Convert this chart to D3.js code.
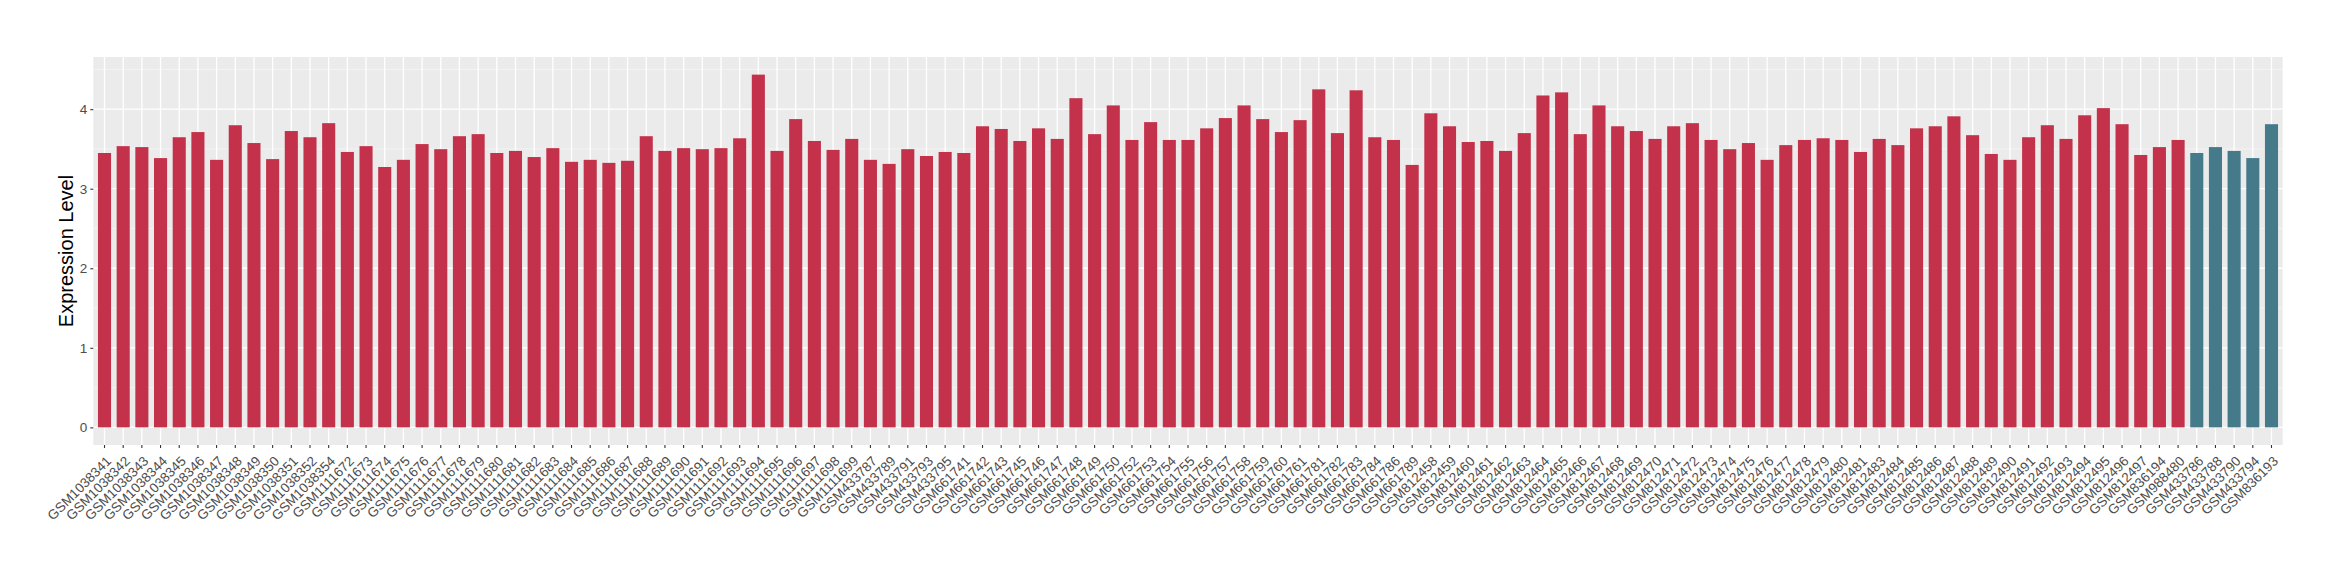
<!DOCTYPE html>
<html>
<head>
<meta charset="utf-8">
<script src="https://cdn.jsdelivr.net/npm/d3@7"></script>
<style>
  html, body { margin: 0; padding: 0; background: #ffffff; }
  svg { display: block; font-family: "Liberation Sans", Arial, Helvetica, sans-serif; }
</style>
</head>
<body>
<svg id="chart" width="2340" height="580"></svg>
<script>
const samples = [
  "GSM1038341","GSM1038342","GSM1038343","GSM1038344","GSM1038345","GSM1038346","GSM1038347","GSM1038348","GSM1038349","GSM1038350",
  "GSM1038351","GSM1038352","GSM1038354","GSM1111672","GSM1111673","GSM1111674","GSM1111675","GSM1111676","GSM1111677","GSM1111678",
  "GSM1111679","GSM1111680","GSM1111681","GSM1111682","GSM1111683","GSM1111684","GSM1111685","GSM1111686","GSM1111687","GSM1111688",
  "GSM1111689","GSM1111690","GSM1111691","GSM1111692","GSM1111693","GSM1111694","GSM1111695","GSM1111696","GSM1111697","GSM1111698",
  "GSM1111699","GSM433787","GSM433789","GSM433791","GSM433793","GSM433795","GSM661741","GSM661742","GSM661743","GSM661745",
  "GSM661746","GSM661747","GSM661748","GSM661749","GSM661750","GSM661752","GSM661753","GSM661754","GSM661755","GSM661756",
  "GSM661757","GSM661758","GSM661759","GSM661760","GSM661761","GSM661781","GSM661782","GSM661783","GSM661784","GSM661786",
  "GSM661789","GSM812458","GSM812459","GSM812460","GSM812461","GSM812462","GSM812463","GSM812464","GSM812465","GSM812466",
  "GSM812467","GSM812468","GSM812469","GSM812470","GSM812471","GSM812472","GSM812473","GSM812474","GSM812475","GSM812476",
  "GSM812477","GSM812478","GSM812479","GSM812480","GSM812481","GSM812483","GSM812484","GSM812485","GSM812486","GSM812487",
  "GSM812488","GSM812489","GSM812490","GSM812491","GSM812492","GSM812493","GSM812494","GSM812495","GSM812496","GSM812497",
  "GSM836194","GSM988480","GSM433786","GSM433788","GSM433790","GSM433794","GSM836193"
];

const expression = [
  3.449,3.535,3.523,3.385,3.647,3.712,3.363,3.798,3.574,3.372,
  3.725,3.647,3.824,3.462,3.535,3.273,3.363,3.561,3.497,3.660,
  3.686,3.449,3.475,3.398,3.510,3.338,3.363,3.325,3.351,3.660,
  3.475,3.510,3.497,3.510,3.634,4.434,3.475,3.875,3.600,3.488,
  3.626,3.363,3.312,3.497,3.411,3.462,3.449,3.785,3.751,3.600,
  3.759,3.626,4.138,3.686,4.047,3.613,3.837,3.613,3.613,3.759,
  3.888,4.047,3.875,3.712,3.862,4.249,3.699,4.237,3.647,3.613,
  3.299,3.948,3.785,3.587,3.600,3.475,3.699,4.172,4.211,3.686,
  4.047,3.785,3.725,3.626,3.785,3.824,3.613,3.497,3.574,3.363,
  3.548,3.613,3.634,3.613,3.462,3.626,3.548,3.759,3.785,3.910,
  3.673,3.437,3.363,3.647,3.798,3.626,3.923,4.013,3.811,3.424,
  3.523,3.613,3.449,3.523,3.475,3.385,3.811
];

const groups = samples.map((s, i) => i < 112 ? "A" : "B");
const groupNames = ["A", "B"];
const groupColors = ["#C3314A", "#457A8B"];
const yTicks = [0, 1, 2, 3, 4];
const yTitle = "Expression Level";

const svg = d3.select("#chart");
const panel = { left: 93.3, right: 2282.7, top: 57, bottom: 445 };

const data = samples.map((s, i) => ({ sample: s, value: expression[i], group: groups[i] }));

const x = d3.scaleBand()
  .domain(samples)
  .range([panel.left, panel.right])
  .paddingInner(0.3)
  .paddingOuter(0.25);

const yMax = d3.max(expression);
const span = yMax - 0;
const y = d3.scaleLinear()
  .domain([0 - 0.05 * span, yMax + 0.05 * span])
  .range([panel.bottom, panel.top]);

const color = d3.scaleOrdinal().domain(groupNames).range(groupColors);

// panel background
svg.append("rect")
  .attr("x", panel.left).attr("y", panel.top)
  .attr("width", panel.right - panel.left)
  .attr("height", panel.bottom - panel.top)
  .attr("fill", "#EBEBEB");

// minor horizontal gridlines
const minorTicks = [];
for (let i = 0; i < yTicks.length; i++) {
  const m = yTicks[i] + 0.5;
  if (y(m) >= panel.top) minorTicks.push(m);
}
svg.append("g").selectAll("line").data(minorTicks).join("line")
  .attr("x1", panel.left).attr("x2", panel.right)
  .attr("y1", d => y(d)).attr("y2", d => y(d))
  .attr("stroke", "#F5F5F5").attr("stroke-width", 0.9);

// major horizontal gridlines
svg.append("g").selectAll("line").data(yTicks).join("line")
  .attr("x1", panel.left).attr("x2", panel.right)
  .attr("y1", d => y(d)).attr("y2", d => y(d))
  .attr("stroke", "#FFFFFF").attr("stroke-width", 1.3);

// vertical gridlines
svg.append("g").selectAll("line").data(samples).join("line")
  .attr("x1", d => x(d) + x.bandwidth() / 2).attr("x2", d => x(d) + x.bandwidth() / 2)
  .attr("y1", panel.top).attr("y2", panel.bottom)
  .attr("stroke", "#FFFFFF").attr("stroke-width", 1.3);

// bars
svg.append("g").selectAll("rect").data(data).join("rect")
  .attr("x", d => x(d.sample))
  .attr("width", x.bandwidth())
  .attr("y", d => y(d.value))
  .attr("height", d => y(0) - y(d.value))
  .attr("fill", d => color(d.group));

// y axis
const yAxis = d3.axisLeft(y).tickValues(yTicks).tickSize(3).tickPadding(3).tickFormat(d3.format("d"));
const gy = svg.append("g").attr("transform", `translate(${panel.left},0)`).call(yAxis);
gy.select(".domain").remove();
gy.selectAll(".tick line").attr("stroke", "#333333").attr("stroke-width", 1.1);
gy.selectAll(".tick text").attr("fill", "#4D4D4D").style("font-size", "13.5px")
  .style("font-family", '"Liberation Sans", Arial, sans-serif');

// x axis
const xAxis = d3.axisBottom(x).tickSize(3).tickSizeOuter(0);
const gx = svg.append("g").attr("transform", `translate(0,${panel.bottom})`).call(xAxis);
gx.select(".domain").remove();
gx.selectAll(".tick line").attr("stroke", "#333333").attr("stroke-width", 1.1);
gx.selectAll(".tick text")
  .attr("fill", "#4D4D4D")
  .style("font-size", "13.5px")
  .style("font-family", '"Liberation Sans", Arial, sans-serif')
  .attr("text-anchor", "end")
  .attr("dy", null)
  .attr("y", null)
  .attr("transform", "translate(7.5,17) rotate(-45)");

// y title
svg.append("text")
  .attr("transform", `translate(72.5,${(panel.top + panel.bottom) / 2}) rotate(-90)`)
  .attr("text-anchor", "middle")
  .attr("fill", "#000000")
  .style("font-size", "20px")
  .text(yTitle);
</script>
</body>
</html>
